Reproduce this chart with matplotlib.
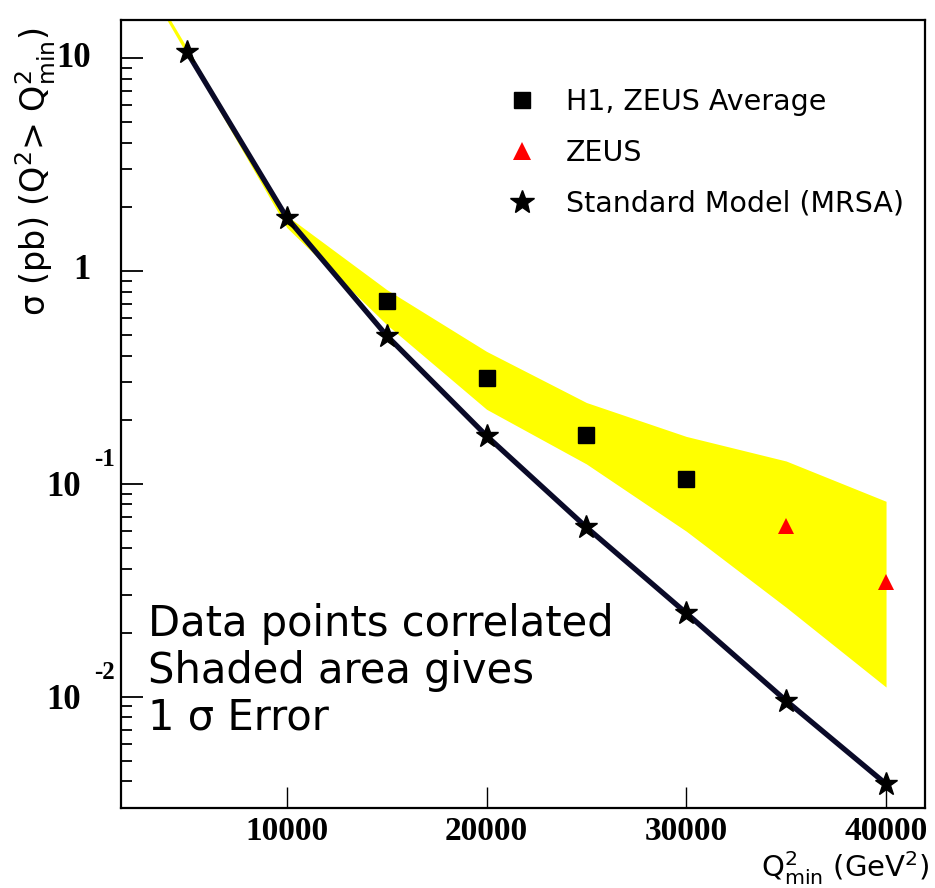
import matplotlib
matplotlib.use("Agg")
import matplotlib.pyplot as plt
from matplotlib.lines import Line2D
from matplotlib import transforms

# Cross sections sigma(Q^2 > Q^2_min) in pb
q2_sm = [5000, 10000, 15000, 20000, 25000, 30000, 35000, 40000]
sigma_sm = [10.7, 1.78, 0.497, 0.168, 0.0625, 0.0247, 0.00957, 0.00389]

q2_avg = [15000, 20000, 25000, 30000]
sigma_avg = [0.726, 0.313, 0.169, 0.105]

q2_zeus = [35000, 40000]
sigma_zeus = [0.0637, 0.0346]

# 1 sigma error band on the data
q2_band = [4000, 5000, 10000, 15000, 20000, 25000, 30000, 35000, 40000]
band_hi = [16.1, 11.2, 1.82, 0.818, 0.419, 0.241, 0.167, 0.128, 0.0828]
band_lo = [15.1, 10.4, 1.60, 0.56, 0.224, 0.124, 0.0599, 0.0263, 0.0111]

x_ticks = [10000, 20000, 30000, 40000]
y_ticks = [10, 1, 0.1, 0.01]
y_tick_base = ["10", "1", "10", "10"]
y_tick_exp = ["", "", "-1", "-2"]

plt.rcParams['font.family'] = ['DejaVu Sans']
W, H = 935, 888
fig = plt.figure(figsize=(W / 100, H / 100), dpi=100)
ax = fig.add_axes([121 / W, 1 - 808 / H, 804 / W, 788 / H])

ax.set_yscale('log')
ax.set_xlim(1700, 41950)
ax.set_ylim(0.0030, 15.1)

ax.fill_between(q2_band, band_lo, band_hi, color='#ffff00', lw=0, zorder=1)
ax.plot(q2_sm, sigma_sm, '-', color='#0a0a28', lw=3.8, zorder=3)
ax.plot(q2_sm, sigma_sm, '*', color='black', ms=17, mec='black', zorder=4)
ax.plot(q2_avg, sigma_avg, 's', color='black', ms=11, mec='black',
        mew=1, zorder=4)
ax.plot(q2_zeus, sigma_zeus, '^', color='#ff0000', ms=11, mec='#ff0000',
        mew=0, zorder=4)

for s in ax.spines.values():
    s.set_linewidth(1.6)

ax.set_xticks(x_ticks)
ax.set_xticklabels([])
ax.tick_params(axis='x', which='major', direction='in', length=15, width=1.0)
ax.tick_params(axis='x', which='minor', length=0)
ax.set_yticks(y_ticks)
ax.set_yticklabels([])
ax.tick_params(axis='y', which='major', direction='in', length=16, width=1.3)
ax.tick_params(axis='y', which='minor', direction='in', length=8, width=1.3)
ax.yaxis.set_minor_formatter(plt.NullFormatter())

tick_font = dict(family='Liberation Serif', weight='bold')

# x tick labels
xt = transforms.blended_transform_factory(ax.transData, fig.transFigure)
for v in x_ticks:
    ax.text(v, 1 - 831 / H, f"{v}", transform=xt, ha='center', va='center',
            fontsize=24, **tick_font)

# y tick labels with raised exponents
yt = transforms.blended_transform_factory(fig.transFigure, ax.transData)
for v, base, ex in zip(y_ticks, y_tick_base, y_tick_exp):
    if ex:
        tb = transforms.offset_copy(yt, fig=fig, y=-4, units='dots')
        ax.text(81 / W, v, base, transform=tb, ha='right', va='center',
                fontsize=25, **tick_font)
        te = transforms.offset_copy(yt, fig=fig, y=24, units='dots')
        ax.text(94 / W, v, ex, transform=te, ha='left', va='center',
                fontsize=18, **tick_font)
    else:
        ax.text(91 / W, v, base, transform=yt, ha='right', va='center',
                fontsize=25, **tick_font)

fig.text(36 / W, 1 - 172 / H, r'σ (pb) (Q$^2$> Q$^2_{\mathrm{min}}$)',
         rotation=90, ha='center', va='center', fontsize=24)
fig.text(929 / W, 1 - 877 / H, r'Q$^2_{\mathrm{min}}$ (GeV$^2$)',
         ha='right', va='baseline', fontsize=21)

ax.text(148 / W, 1 - 603 / H,
        "Data points correlated\nShaded area gives\n1 σ Error",
        transform=fig.transFigure, ha='left', va='top', fontsize=30,
        linespacing=1.15)

handles = [
    Line2D([], [], ls='none', marker='s', color='black', ms=12),
    Line2D([], [], ls='none', marker='^', color='#ff0000', ms=13, mew=0),
    Line2D([], [], ls='none', marker='*', color='black', ms=18),
]
labels = ["H1, ZEUS Average", "ZEUS", "Standard Model (MRSA)"]
ax.legend(handles, labels, loc='upper left',
          bbox_to_anchor=(505 / W, 1 - 88 / H), bbox_transform=fig.transFigure,
          frameon=False, fontsize=20.5, handletextpad=0.95, labelspacing=0.8,
          handlelength=1.2, borderaxespad=0, borderpad=0)

fig.savefig('out.png', dpi=100)
